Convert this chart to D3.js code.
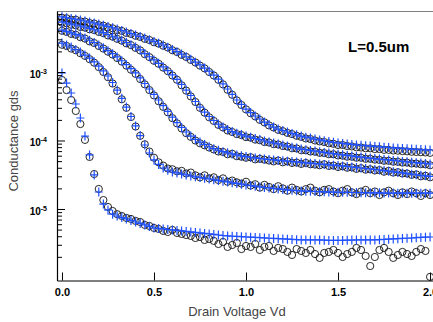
<!DOCTYPE html>
<html>
<head>
<meta charset="utf-8">
<script src="https://cdn.jsdelivr.net/npm/d3@7"></script>
<style>
body { margin: 0; background: #fff; }
svg { display: block; }
</style>
</head>
<body>
<div id="chart"></div>
<script>
// drain voltage steps (V)
var vd = [0, 0.025, 0.05, 0.075, 0.1, 0.125, 0.15, 0.175, 0.2, 0.225, 0.25, 0.275, 0.3, 0.325, 0.35, 0.375, 0.4, 0.425, 0.45, 0.475,
  0.5, 0.525, 0.55, 0.575, 0.6, 0.625, 0.65, 0.675, 0.7, 0.725, 0.75, 0.775, 0.8, 0.825, 0.85, 0.875, 0.9, 0.925, 0.95, 0.975,
  1.0, 1.025, 1.05, 1.075, 1.1, 1.125, 1.15, 1.175, 1.2, 1.225, 1.25, 1.275, 1.3, 1.325, 1.35, 1.375, 1.4, 1.425, 1.45, 1.475,
  1.5, 1.525, 1.55, 1.575, 1.6, 1.625, 1.65, 1.675, 1.7, 1.725, 1.75, 1.775, 1.8, 1.825, 1.85, 1.875, 1.9, 1.925, 1.95, 1.975, 2.0];

// measured gds (open circles), highest gate bias first
var meas1 = [6.2e-3, 6.1e-3, 5.8e-3, 5.8e-3, 5.5e-3, 5.45e-3, 5.2e-3, 5.1e-3, 4.85e-3, 4.75e-3, 4.5e-3, 4.35e-3, 4.1e-3, 3.98e-3, 3.72e-3, 3.6e-3, 3.38e-3, 3.25e-3, 3.05e-3, 2.93e-3,
  2.72e-3, 2.6e-3, 2.42e-3, 2.28e-3, 2.08e-3, 1.96e-3, 1.78e-3, 1.66e-3, 1.5e-3, 1.38e-3, 1.24e-3, 1.13e-3, 1.0e-3, 8.9e-4, 7.7e-4, 6.6e-4, 5.5e-4, 4.65e-4, 3.85e-4, 3.3e-4,
  2.85e-4, 2.5e-4, 2.25e-4, 2.0e-4, 1.84e-4, 1.66e-4, 1.55e-4, 1.43e-4, 1.37e-4, 1.29e-4, 1.24e-4, 1.17e-4, 1.13e-4, 1.07e-4, 1.05e-4, 1.0e-4, 9.7e-5, 9.5e-5, 9.1e-5, 8.95e-5,
  8.6e-5, 8.6e-5, 8.3e-5, 8.2e-5, 7.95e-5, 7.9e-5, 7.7e-5, 7.7e-5, 7.5e-5, 7.5e-5, 7.3e-5, 7.3e-5, 7.15e-5, 7.1e-5, 7.0e-5, 6.95e-5, 6.85e-5, 6.8e-5, 6.75e-5, 6.7e-5, 6.6e-5];
var meas2 = [5.25e-3, 5.15e-3, 4.9e-3, 4.8e-3, 4.55e-3, 4.45e-3, 4.2e-3, 4.1e-3, 3.85e-3, 3.7e-3, 3.42e-3, 3.28e-3, 3.05e-3, 2.87e-3, 2.62e-3, 2.47e-3, 2.25e-3, 2.07e-3, 1.82e-3, 1.65e-3,
  1.46e-3, 1.32e-3, 1.16e-3, 1.03e-3, 8.9e-4, 7.7e-4, 6.4e-4, 5.35e-4, 4.4e-4, 3.65e-4, 3.0e-4, 2.55e-4, 2.18e-4, 1.93e-4, 1.69e-4, 1.55e-4, 1.4e-4, 1.33e-4, 1.24e-4, 1.2e-4,
  1.12e-4, 1.1e-4, 1.03e-4, 1.01e-4, 9.5e-5, 9.35e-5, 8.85e-5, 8.75e-5, 8.3e-5, 8.15e-5, 7.7e-5, 7.65e-5, 7.2e-5, 7.2e-5, 6.9e-5, 6.85e-5, 6.6e-5, 6.55e-5, 6.3e-5, 6.3e-5,
  6.05e-5, 6.0e-5, 5.8e-5, 5.8e-5, 5.6e-5, 5.6e-5, 5.4e-5, 5.4e-5, 5.25e-5, 5.2e-5, 5.05e-5, 5.05e-5, 4.9e-5, 4.88e-5, 4.75e-5, 4.75e-5, 4.62e-5, 4.6e-5, 4.5e-5, 4.48e-5, 4.35e-5];
var meas3 = [4.0e-3, 3.85e-3, 3.6e-3, 3.5e-3, 3.22e-3, 3.08e-3, 2.8e-3, 2.65e-3, 2.4e-3, 2.2e-3, 1.98e-3, 1.8e-3, 1.6e-3, 1.42e-3, 1.24e-3, 1.08e-3, 9.4e-4, 7.9e-4, 6.6e-4, 5.45e-4,
  4.55e-4, 3.75e-4, 3.1e-4, 2.58e-4, 2.12e-4, 1.78e-4, 1.5e-4, 1.28e-4, 1.13e-4, 1.0e-4, 9.1e-5, 8.5e-5, 7.9e-5, 7.4e-5, 6.9e-5, 6.8e-5, 6.3e-5, 6.4e-5, 5.9e-5, 5.8e-5,
  5.6e-5, 5.7e-5, 5.3e-5, 5.4e-5, 5.25e-5, 5.1e-5, 4.95e-5, 5.1e-5, 4.8e-5, 4.95e-5, 4.7e-5, 4.75e-5, 4.55e-5, 4.7e-5, 4.5e-5, 4.45e-5, 4.35e-5, 4.5e-5, 4.25e-5, 4.3e-5,
  4.1e-5, 4.2e-5, 4.0e-5, 4.05e-5, 3.85e-5, 3.95e-5, 3.75e-5, 3.8e-5, 3.65e-5, 3.7e-5, 3.5e-5, 3.6e-5, 3.4e-5, 3.45e-5, 3.3e-5, 3.3e-5, 3.15e-5, 3.2e-5, 3.0e-5, 3.05e-5, 2.9e-5];
var meas4 = [2.5e-3, 2.4e-3, 2.2e-3, 2.08e-3, 1.88e-3, 1.72e-3, 1.54e-3, 1.37e-3, 1.18e-3, 1.0e-3, 8.4e-4, 6.8e-4, 5.3e-4, 4.0e-4, 3.0e-4, 2.2e-4, 1.6e-4, 1.17e-4, 8.8e-5, 6.9e-5,
  5.6e-5, 4.8e-5, 4.3e-5, 3.9e-5, 3.8e-5, 3.55e-5, 3.6e-5, 3.3e-5, 3.4e-5, 3.1e-5, 2.9e-5, 3.1e-5, 2.8e-5, 2.9e-5, 2.65e-5, 2.8e-5, 2.5e-5, 2.6e-5, 2.45e-5, 2.35e-5,
  2.5e-5, 2.2e-5, 2.3e-5, 2.05e-5, 2.25e-5, 2.1e-5, 1.95e-5, 2.15e-5, 2.0e-5, 1.85e-5, 2.05e-5, 1.9e-5, 1.8e-5, 1.95e-5, 2.05e-5, 1.85e-5, 1.75e-5, 1.9e-5, 1.95e-5, 1.8e-5,
  1.7e-5, 1.85e-5, 1.95e-5, 1.75e-5, 1.65e-5, 1.8e-5, 1.9e-5, 1.7e-5, 1.8e-5, 1.6e-5, 1.75e-5, 1.85e-5, 1.7e-5, 1.6e-5, 1.75e-5, 1.65e-5, 1.8e-5, 1.7e-5, 1.55e-5, 1.7e-5, 1.6e-5];
var meas5 = [7.65e-4, 5.45e-4, 3.9e-4, 2.7e-4, 1.74e-4, 1.02e-4, 5.75e-5, 3.24e-5, 1.96e-5, 1.35e-5, 1.07e-5, 9.35e-6, 8.4e-6, 7.9e-6, 7.4e-6, 7.15e-6, 6.7e-6, 6.45e-6, 5.85e-6, 5.65e-6,
  5.28e-6, 5.11e-6, 4.78e-6, 4.62e-6, 4.94e-6, 4.47e-6, 4.32e-6, 4.17e-6, 4.04e-6, 3.77e-6, 3.9e-6, 3.53e-6, 3.65e-6, 3.42e-6, 3.08e-6, 3.3e-6, 2.79e-6, 2.98e-6, 3.19e-6, 2.6e-6,
  2.88e-6, 2.79e-6, 3.08e-6, 2.52e-6, 2.79e-6, 2.88e-6, 2.44e-6, 2.7e-6, 2.6e-6, 2.36e-6, 2.13e-6, 2.6e-6, 2.44e-6, 2.28e-6, 2.52e-6, 2.2e-6, 1.93e-6, 2.28e-6, 2.36e-6, 2.52e-6,
  2.28e-6, 1.99e-6, 2.2e-6, 2.36e-6, 2.7e-6, 2.52e-6, 2.06e-6, 1.47e-6, 1.99e-6, 2.52e-6, 2.7e-6, 2.36e-6, 1.93e-6, 2.13e-6, 2.36e-6, 2.2e-6, 2.06e-6, 2.36e-6, 2.6e-6, 2.44e-6, 1.02e-6];

// simulated gds (blue crosses)
var sim1 = [6.4e-3, 6.2e-3, 6.05e-3, 5.9e-3, 5.75e-3, 5.56e-3, 5.37e-3, 5.2e-3, 5.02e-3, 4.83e-3, 4.62e-3, 4.43e-3, 4.25e-3, 4.04e-3, 3.84e-3, 3.65e-3, 3.47e-3, 3.3e-3, 3.14e-3, 2.96e-3,
  2.8e-3, 2.63e-3, 2.48e-3, 2.3e-3, 2.14e-3, 1.98e-3, 1.83e-3, 1.67e-3, 1.53e-3, 1.39e-3, 1.27e-3, 1.14e-3, 1.03e-3, 9.0e-4, 7.9e-4, 6.7e-4, 5.65e-4, 4.7e-4, 3.9e-4, 3.36e-4,
  2.88e-4, 2.56e-4, 2.28e-4, 2.06e-4, 1.86e-4, 1.71e-4, 1.57e-4, 1.47e-4, 1.4e-4, 1.33e-4, 1.27e-4, 1.21e-4, 1.16e-4, 1.12e-4, 1.09e-4, 1.05e-4, 1.02e-4, 9.9e-5, 9.65e-5, 9.4e-5,
  9.2e-5, 9.05e-5, 8.9e-5, 8.75e-5, 8.6e-5, 8.5e-5, 8.4e-5, 8.3e-5, 8.2e-5, 8.1e-5, 8.0e-5, 7.9e-5, 7.8e-5, 7.72e-5, 7.65e-5, 7.58e-5, 7.5e-5, 7.45e-5, 7.38e-5, 7.32e-5, 7.26e-5];
var sim2 = [5.37e-3, 5.2e-3, 5.02e-3, 4.86e-3, 4.7e-3, 4.51e-3, 4.32e-3, 4.14e-3, 3.97e-3, 3.75e-3, 3.53e-3, 3.33e-3, 3.14e-3, 2.91e-3, 2.7e-3, 2.5e-3, 2.32e-3, 2.1e-3, 1.86e-3, 1.67e-3,
  1.5e-3, 1.34e-3, 1.19e-3, 1.05e-3, 9.1e-4, 7.8e-4, 6.6e-4, 5.45e-4, 4.54e-4, 3.71e-4, 3.08e-4, 2.6e-4, 2.24e-4, 1.96e-4, 1.74e-4, 1.57e-4, 1.45e-4, 1.35e-4, 1.28e-4, 1.22e-4,
  1.16e-4, 1.12e-4, 1.07e-4, 1.03e-4, 9.83e-5, 9.5e-5, 9.2e-5, 8.9e-5, 8.6e-5, 8.3e-5, 8.0e-5, 7.8e-5, 7.5e-5, 7.35e-5, 7.17e-5, 7.0e-5, 6.85e-5, 6.7e-5, 6.55e-5, 6.43e-5,
  6.3e-5, 6.17e-5, 6.05e-5, 5.95e-5, 5.83e-5, 5.73e-5, 5.63e-5, 5.54e-5, 5.45e-5, 5.35e-5, 5.27e-5, 5.2e-5, 5.11e-5, 5.02e-5, 4.95e-5, 4.89e-5, 4.81e-5, 4.74e-5, 4.68e-5, 4.62e-5, 4.54e-5];
var sim3 = [4.1e-3, 3.92e-3, 3.73e-3, 3.54e-3, 3.36e-3, 3.14e-3, 2.91e-3, 2.7e-3, 2.48e-3, 2.26e-3, 2.05e-3, 1.85e-3, 1.66e-3, 1.46e-3, 1.28e-3, 1.12e-3, 9.7e-4, 8.2e-4, 6.8e-4, 5.65e-4,
  4.7e-4, 3.9e-4, 3.22e-4, 2.67e-4, 2.2e-4, 1.83e-4, 1.55e-4, 1.33e-4, 1.16e-4, 1.04e-4, 9.5e-5, 8.75e-5, 8.1e-5, 7.6e-5, 7.2e-5, 6.87e-5, 6.6e-5, 6.36e-5, 6.15e-5, 5.98e-5,
  5.83e-5, 5.69e-5, 5.56e-5, 5.46e-5, 5.37e-5, 5.28e-5, 5.2e-5, 5.12e-5, 5.06e-5, 4.99e-5, 4.92e-5, 4.86e-5, 4.79e-5, 4.72e-5, 4.66e-5, 4.6e-5, 4.54e-5, 4.48e-5, 4.42e-5, 4.36e-5,
  4.3e-5, 4.25e-5, 4.17e-5, 4.1e-5, 4.04e-5, 3.97e-5, 3.9e-5, 3.84e-5, 3.77e-5, 3.71e-5, 3.64e-5, 3.56e-5, 3.49e-5, 3.42e-5, 3.36e-5, 3.29e-5, 3.22e-5, 3.16e-5, 3.1e-5, 3.05e-5, 3.0e-5];
var sim4 = [2.65e-3, 2.48e-3, 2.32e-3, 2.13e-3, 1.96e-3, 1.77e-3, 1.6e-3, 1.41e-3, 1.22e-3, 1.04e-3, 8.75e-4, 7.03e-4, 5.45e-4, 4.13e-4, 3.08e-4, 2.24e-4, 1.63e-4, 1.18e-4, 8.6e-5, 6.57e-5,
  5.2e-5, 4.47e-5, 3.97e-5, 3.68e-5, 3.47e-5, 3.36e-5, 3.24e-5, 3.14e-5, 3.03e-5, 2.95e-5, 2.88e-5, 2.82e-5, 2.74e-5, 2.67e-5, 2.6e-5, 2.55e-5, 2.48e-5, 2.41e-5, 2.36e-5, 2.3e-5,
  2.24e-5, 2.2e-5, 2.15e-5, 2.1e-5, 2.06e-5, 2.03e-5, 1.99e-5, 1.96e-5, 1.93e-5, 1.9e-5, 1.87e-5, 1.85e-5, 1.83e-5, 1.82e-5, 1.81e-5, 1.8e-5, 1.79e-5, 1.78e-5, 1.77e-5, 1.76e-5,
  1.755e-5, 1.75e-5, 1.75e-5, 1.74e-5, 1.74e-5, 1.73e-5, 1.73e-5, 1.72e-5, 1.72e-5, 1.72e-5, 1.71e-5, 1.71e-5, 1.71e-5, 1.7e-5, 1.7e-5, 1.7e-5, 1.7e-5, 1.7e-5, 1.7e-5, 1.7e-5, 1.7e-5];
var sim5 = [9.7e-4, 6.9e-4, 4.94e-4, 3.41e-4, 2.13e-4, 1.16e-4, 6.15e-5, 3.14e-5, 1.77e-5, 1.18e-5, 9.7e-6, 8.4e-6, 7.9e-6, 7.5e-6, 7.15e-6, 6.8e-6, 6.45e-6, 6.15e-6, 5.85e-6, 5.56e-6,
  5.28e-6, 5.2e-6, 5.11e-6, 5.02e-6, 4.94e-6, 4.86e-6, 4.78e-6, 4.7e-6, 4.62e-6, 4.54e-6, 4.47e-6, 4.39e-6, 4.32e-6, 4.25e-6, 4.17e-6, 4.1e-6, 4.04e-6, 4.0e-6, 3.97e-6, 3.94e-6,
  3.9e-6, 3.87e-6, 3.84e-6, 3.81e-6, 3.78e-6, 3.74e-6, 3.71e-6, 3.68e-6, 3.65e-6, 3.62e-6, 3.59e-6, 3.56e-6, 3.53e-6, 3.53e-6, 3.53e-6, 3.53e-6, 3.53e-6, 3.5e-6, 3.48e-6, 3.47e-6,
  3.47e-6, 3.48e-6, 3.5e-6, 3.51e-6, 3.53e-6, 3.53e-6, 3.53e-6, 3.53e-6, 3.53e-6, 3.56e-6, 3.59e-6, 3.62e-6, 3.65e-6, 3.68e-6, 3.71e-6, 3.74e-6, 3.77e-6, 3.81e-6, 3.84e-6, 3.87e-6, 3.9e-6];

var measured = [meas1, meas2, meas3, meas4, meas5];
var simulated = [sim1, sim2, sim3, sim4, sim5];

// axis ticks
var xTicks = [0, 0.5, 1.0, 1.5, 2.0];
var yMajor = [1e-3, 1e-4, 1e-5];
var yMajorExp = ["-3", "-4", "-5"];
var yMinor = [2e-6, 3e-6, 4e-6, 5e-6, 6e-6, 7e-6, 8e-6, 9e-6,
  2e-5, 3e-5, 4e-5, 5e-5, 6e-5, 7e-5, 8e-5, 9e-5,
  2e-4, 3e-4, 4e-4, 5e-4, 6e-4, 7e-4, 8e-4, 9e-4,
  2e-3, 3e-3, 4e-3, 5e-3, 6e-3, 7e-3];

var margin = {top: 11, right: 0, bottom: 41.5, left: 57},
    width = 433 - margin.left - margin.right,
    height = 322 - margin.top - margin.bottom;

var x = d3.scaleLinear().domain([-0.027, 2.016]).range([0, width]);
var y = d3.scaleLog().domain([9.03e-7, 7.78e-3]).range([height, 0]);

var svg = d3.select("#chart").append("svg")
  .attr("width", 433)
  .attr("height", 322);

var g = svg.append("g")
  .attr("transform", "translate(" + margin.left + "," + margin.top + ")");

// top frame line
g.append("line")
  .attr("x1", 0).attr("x2", width)
  .attr("y1", 0.5).attr("y2", 0.5)
  .attr("stroke", "#808080").attr("stroke-width", 1.2);

// measured: open circles
measured.forEach(function(series) {
  g.append("g")
    .selectAll("circle")
    .data(series)
    .enter()
    .append("circle")
    .attr("cx", function(d, i) { return x(vd[i]); })
    .attr("cy", function(d) { return y(d); })
    .attr("r", 3.6)
    .attr("fill", "none")
    .attr("stroke", "#111")
    .attr("stroke-width", 0.9);
});

// simulated: blue crosses
var cross = "M-4,0H4M0,-4.5V4.5";
simulated.forEach(function(series) {
  g.append("g")
    .selectAll("path")
    .data(series)
    .enter()
    .append("path")
    .attr("d", cross)
    .attr("transform", function(d, i) { return "translate(" + x(vd[i]) + "," + y(d) + ")"; })
    .attr("fill", "none")
    .attr("stroke", "#1f50ff")
    .attr("stroke-width", 1.2);
});

// y axis minor ticks
g.append("g")
  .call(d3.axisLeft(y).tickValues(yMinor).tickSize(-5).tickSizeOuter(0).tickFormat(""))
  .call(function(s) { s.select(".domain").remove(); })
  .selectAll("line").attr("stroke", "#000");

// y axis major ticks + labels
var yAxis = g.append("g")
  .call(d3.axisLeft(y).tickValues(yMajor).tickSize(-8).tickSizeOuter(0).tickFormat(""));
yAxis.select(".domain").attr("stroke", "#000").attr("stroke-width", 1.2);
yAxis.selectAll(".tick text").remove();
yAxis.selectAll(".tick").append("text")
  .attr("x", -10)
  .attr("y", 5.5)
  .attr("text-anchor", "end")
  .attr("fill", "#000")
  .style("font-family", "'Liberation Sans', Arial, sans-serif")
  .style("font-weight", "bold")
  .style("font-size", "10px")
  .each(function(d, i) {
    var t = d3.select(this);
    t.append("tspan").text("10");
    t.append("tspan").attr("dy", -4).style("font-size", "7px").text(yMajorExp[i]);
  });

// x axis
var xAxis = g.append("g")
  .attr("transform", "translate(0," + height + ")")
  .call(d3.axisBottom(x).tickValues(xTicks).tickSize(-8).tickSizeOuter(0).tickPadding(8).tickFormat(d3.format(".1f")));
xAxis.select(".domain").attr("stroke", "#000").attr("stroke-width", 1.2);
xAxis.selectAll("text")
  .attr("fill", "#000")
  .style("font-family", "'Liberation Sans', Arial, sans-serif")
  .style("font-weight", "bold")
  .style("font-size", "11px");

// axis titles
svg.append("text")
  .attr("transform", "translate(18,141) rotate(-90)")
  .attr("text-anchor", "middle")
  .attr("fill", "#444")
  .style("font-family", "'Liberation Sans Narrow', 'Arial Narrow', 'Liberation Sans', sans-serif")
  .style("font-size", "13px")
  .text("Conductance gds");

svg.append("text")
  .attr("x", 237)
  .attr("y", 316)
  .attr("text-anchor", "middle")
  .attr("fill", "#444")
  .style("font-family", "'Liberation Sans Narrow', 'Arial Narrow', 'Liberation Sans', sans-serif")
  .style("font-size", "13px")
  .text("Drain Voltage Vd");

// channel length note
svg.append("text")
  .attr("x", 348)
  .attr("y", 52)
  .attr("fill", "#000")
  .style("font-family", "'Liberation Sans', Arial, sans-serif")
  .style("font-weight", "bold")
  .style("font-size", "15px")
  .text("L=0.5um");
</script>
</body>
</html>
